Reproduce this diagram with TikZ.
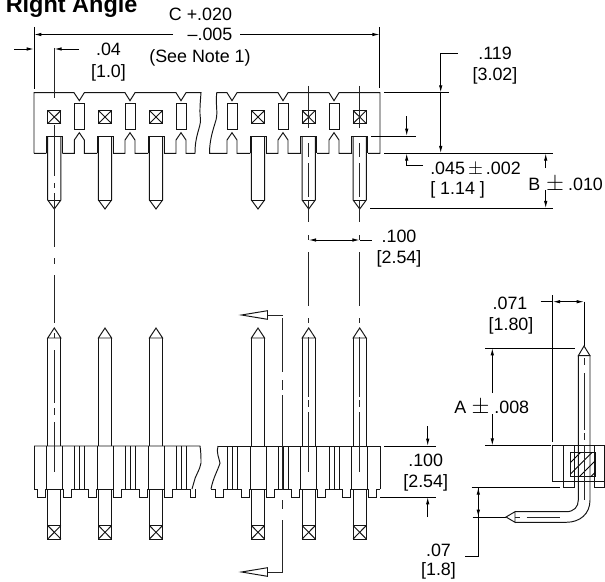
\documentclass[tikz,border=0pt]{standalone}
\usepackage{fontspec}
\usepackage{graphicx}
\setmainfont{Liberation Sans}
\usetikzlibrary{arrows.meta}
\tikzset{
  part/.style={line width=0.72pt,line join=miter,black!92},
  cen/.style={line width=0.72pt,black!85},
  dim/.style={line width=0.72pt,black},
  arr/.style={dim,-{Latex[length=5.5pt,width=2.6pt]}},
  lab/.style={anchor=base,inner sep=0pt,font=\fontsize{13.4}{16}\selectfont},
  labw/.style={lab,anchor=base west},
  hatchline/.style={line width=0.6pt,black}
}
\newcommand{\cenv}[3]{\draw[cen] (#1,#2) -- (#1,#3);}
\newcommand{\bigpm}{\scalebox{1.2}{$\pm$}}
\begin{document}
\begin{tikzpicture}[x=0.75pt,y=-0.75pt]
\useasboundingbox (0,0) rectangle (605,581);
\clip (0,0) rectangle (605,581);
\fill[white] (0,0) rectangle (605,581);

% ---------- title
\node[anchor=base west,inner sep=0pt,font=\fontsize{17.6}{20}\selectfont\bfseries] (title) at (5.5,13) {Right Angle};

% ---------- top view: body outline
\draw[part] (34,153.3) -- (34,92.7) -- (74,92.7) -- (79.3,100.7) -- (84.3,92.7) -- (125,92.7) -- (130,100.7) -- (135,92.7) -- (176,92.7) -- (181,100.7) -- (186,92.7) -- (201,92.7)
  .. controls (200,105) and (199.5,112) .. (200.5,120) .. controls (200.5,128) and (195,135) .. (195,153.3)
  -- (186,153.3) -- (186,140) -- (181,132.7) -- (176,140) -- (176,153.3) -- (164,153.3)
  (148,153.3) -- (135,153.3) -- (135,140) -- (130,132.7) -- (125,140) -- (125,153.3) -- (113,153.3)
  (97,153.3) -- (84.3,153.3) -- (84.3,140) -- (79.3,132.7) -- (74.3,140) -- (74.3,153.3) -- (62.3,153.3)
  (46.3,153.3) -- (34,153.3);
\draw[part] (216.7,92.7) -- (227,92.7) -- (232,100.7) -- (237,92.7) -- (278,92.7) -- (283,100.7) -- (288,92.7) -- (329,92.7) -- (334,100.7) -- (339,92.7) -- (380,92.7) -- (380,153.3) -- (368,153.3)
  (352,153.3) -- (339,153.3) -- (339,140) -- (334,132.7) -- (329,140) -- (329,153.3) -- (317,153.3)
  (301,153.3) -- (288,153.3) -- (288,140) -- (283,132.7) -- (278,140) -- (278,153.3) -- (266,153.3)
  (250,153.3) -- (237,153.3) -- (237,140) -- (232,132.7) -- (227,140) -- (227,153.3) -- (209.5,153.3)
  .. controls (209.5,140) and (213,130) .. (216,120) .. controls (218,112) and (215.5,105) .. (216.7,92.7);
% slots
\foreach \c in {79.3,130,181,232,283,334}
  \draw[part] (\c-5,103.3) rectangle (\c+5,129.3);
% pins, top view
\foreach \c in {54.3,105,156,258,308.7,359.7}{
  \draw[part,fill=white] (\c-6.6,110.5) rectangle (\c+6.6,123.5);
  \draw[part] (\c-6.6,110.5) -- (\c+6.6,123.5) (\c-6.6,123.5) -- (\c+6.6,110.5);
  \draw[part] (\c-8,153.3) -- (\c-8,136) -- (\c+8,136) -- (\c+8,153.3);
  \draw[part] (\c-6.6,136) -- (\c-6.6,200) -- (\c,209) -- (\c+6.6,200) -- (\c+6.6,136);
  \draw[part] (\c-6.6,200) -- (\c+6.6,200);
}

% ---------- front view
\draw[part] (34,446) -- (200,446) .. controls (201,452) and (201,458) .. (201,463) .. controls (200,470) and (195,476) .. (194,482) -- (192,489);
\draw[part] (218,446) .. controls (216,452) and (219,458) .. (220,463) .. controls (218,470) and (213,478) .. (211,489);
\draw[part] (218,446) -- (380,446) -- (380,489);
\draw[part] (34,446) -- (34,489);
% base with feet
\draw[part] (34,489) -- (37.5,489) -- (37.5,497) -- (45.3,497) -- (45.3,489) -- (46.3,489);
\draw[part] (173,489) -- (190.5,489) -- (190.5,497) -- (195,497) -- (195,489);
\draw[part] (211,489) -- (215.7,489) -- (215.7,497) -- (223.7,497) -- (223.7,489) -- (241,489);
\draw[part] (376,489) -- (380,489);
\foreach \c in {54.3,105,156,258,308.7,359.7}{
  \draw[part] (\c-8,446) -- (\c-8,489) (\c+8,446) -- (\c+8,489);
  \draw[part] (\c-8,489) -- (\c+8,489);
  \draw[part] (\c-6.6,338) -- (\c,328) -- (\c+6.6,338) -- cycle;
  \draw[part] (\c-6.6,338) -- (\c-6.6,446) (\c+6.6,338) -- (\c+6.6,446);
  \draw[part] (\c-6.6,489) -- (\c-6.6,539) -- (\c+6.6,539) -- (\c+6.6,489);
  \draw[part] (\c-6.6,525.5) rectangle (\c+6.6,539);
  \draw[part] (\c-6.6,525.5) -- (\c+6.6,539) (\c-6.6,539) -- (\c+6.6,525.5);
  \draw[part] (\c+8,489) -- (\c+8.8,489) -- (\c+8.8,497) -- (\c+16.8,497) -- (\c+16.8,489);
}
\foreach \c in {105,156,258,308.7,359.7}
  \draw[part] (\c-16.8,489) -- (\c-16.8,497) -- (\c-8.8,497) -- (\c-8.8,489) -- (\c-8,489);
\foreach \a/\b in {71.1/88.2,121.8/139.2,275/291.9,325.5/342.9}
  \draw[part] (\a,489) -- (\b,489);
\foreach \c in {79.3,130,181,232.3,283,334}
  \draw[part] (\c-5,446) -- (\c-5,489) (\c,446) -- (\c,489) (\c+5,446) -- (\c+5,489);

% ---------- centre lines
\cenv{54.3}{48}{98}\cenv{54.3}{125}{176}\cenv{54.3}{183}{188}\cenv{54.3}{193}{247}\cenv{54.3}{258}{264}\cenv{54.3}{275}{323}\cenv{54.3}{333}{338}\cenv{54.3}{350}{403}\cenv{54.3}{408}{415}\cenv{54.3}{422}{472}
\foreach \c in {308.7,359.7}{
  \cenv{\c}{86}{128}\cenv{\c}{143}{157}\cenv{\c}{163}{197}\cenv{\c}{200}{222}\cenv{\c}{235}{240}\cenv{\c}{252}{306}\cenv{\c}{318}{323}\cenv{\c}{337}{397}\cenv{\c}{400}{407}\cenv{\c}{412}{472}
}
% section line
\draw[cen] (282.8,318) -- (282.8,372) (282.8,380) -- (282.8,390) (282.8,395) -- (282.8,490) (282.8,500) -- (282.8,509) (282.8,520) -- (282.8,572) -- (267.5,572);
\draw[cen] (282.8,315) -- (267.5,315);
\draw[part,fill=white] (241.5,315) -- (267.5,310.7) -- (267.5,319.3) -- cycle;
\draw[part,fill=white] (241.5,572) -- (267.5,567.7) -- (267.5,576.3) -- cycle;

% ---------- dimension C
\coordinate (cl) at (34,34.5); \coordinate (cr) at (379.7,34.5);
\draw[dim] (34,27) -- (34,89) (379.7,27) -- (379.7,88);
\draw[arr] (173,34.5) -- (cl);
\draw[arr] (240,34.5) -- (cr);
\node[lab] (c1) at (200.5,21) {C +.020};
\node[lab] (c2) at (210,41) {--.005};
\node[lab] (c3) at (200,62.5) {(See Note 1)};

% .04
\draw[arr] (14,49) -- (34,49);
\draw[arr] (79,49) -- (54.3,49);
\node[lab] (d1) at (108.5,55.5) {.04};
\node[lab] (d2) at (108.5,77.5) {[1.0]};

% .119
\draw[dim] (457.7,53.3) -- (440.7,53.3);
\draw[arr] (440.7,53.3) -- (440.7,92.7);
\draw[arr] (440.7,92.7) -- (440.7,153.3);
\draw[dim] (384,92.7) -- (449,92.7) (384,153.3) -- (553,153.3);
\node[lab] (e1) at (495,59.5) {.119};
\node[lab] (e2) at (495,80.5) {[3.02]};

% .045
\draw[arr] (406.7,116) -- (406.7,136);
\draw[dim] (371,136) -- (416,136);
\draw[arr] (423,165.7) -- (406.7,165.7) -- (406.7,153.3);
\node[labw] (f1) at (430,174.5) {.045\,$\pm$\,.002};
\node[labw] (f2) at (430,194) {[ 1.14 ]};

% B
\draw[arr] (545.7,168) -- (545.7,153.3);
\draw[arr] (545.7,190) -- (545.7,208.3);
\draw[dim] (370,208.3) -- (553,208.3);
\node[labw] (g1) at (528,190.5) {B\hspace{4.5pt}\bigpm\hspace{3pt}.010};

% .100 pitch
\draw[arr] (340,240) -- (308.7,240);
\draw[arr] (330,240) -- (359.7,240);
\draw[dim] (359.7,240) -- (372,240);
\node[lab] (h1) at (399,242.5) {.100};
\node[lab] (h2) at (399,263.5) {[2.54]};

% .100 body
\draw[dim] (384,446) -- (435.5,446) (380,497) -- (435.5,497);
\draw[arr] (427.7,426) -- (427.7,446);
\draw[arr] (427.7,517) -- (427.7,497);
\node[lab] (i1) at (425.7,466.5) {.100};
\node[lab] (i2) at (425.7,487) {[2.54]};

% .07
\draw[dim] (471.7,487.3) -- (560,487.3) (472.7,517) -- (506,517);
\draw[arr] (478.3,517) -- (478.3,487.3);
\draw[arr] (478.3,487.3) -- (478.3,517);
\draw[dim] (478.3,517) -- (478.3,556.7) -- (465,556.7);
\node[lab] (j1) at (438.5,556.5) {.07};
\node[lab] (j2) at (438.5,575.5) {[1.8]};

% ---------- side view
\draw[part] (552.7,445.7) rectangle (604.6,481.7);
\draw[part] (563.3,445.7) -- (563.3,487.5) -- (574.3,487.5) -- (574.3,445.7);
\draw[part] (594,445.7) -- (594,487.5) -- (604.6,487.5) -- (604.6,481.7);
\draw[part] (570.7,452.3) rectangle (595,476.7);
\begin{scope}
  \clip (570.7,452.3) rectangle (595,476.7);
  \foreach \k in {0,1,2,3,4}
    \draw[hatchline] (553+\k*11.5,480) -- (583+\k*11.5,450);
\end{scope}
\draw[part] (578.3,355.7) -- (584,346) -- (590,355.7) -- cycle;
\draw[part] (578.3,355.7) -- (578.3,500) .. controls (578.3,507) and (574,511.7) .. (566,511.7) -- (521,511.7) -- (515,511.7);
\draw[part] (590,355.7) -- (590,500) .. controls (590,514) and (580,522.3) .. (566,522.3) -- (515,522.3);
\draw[part] (515,511.7) -- (506,517) -- (515,522.3) -- cycle;
\cenv{584}{358}{365}\cenv{584}{373}{430}\cenv{584}{433}{440}\cenv{584}{445}{500}
\draw[cen] (515,517) -- (520,517) (526.7,517) -- (560,517);

% .071
\draw[dim] (552.7,295) -- (552.7,441.7);
\draw[arr] (575,301.7) -- (552.7,301.7);
\draw[dim] (540.7,301.7) -- (552.7,301.7);
\draw[arr] (560,301.7) -- (584,301.7);
\draw[dim] (584,301.7) -- (584,346);
\node[lab] (k1) at (510,309) {.071};
\node[lab] (k2) at (511,330.5) {[1.80]};

% A
\draw[dim] (485,348) -- (575,348) (485,445.7) -- (550.7,445.7);
\draw[arr] (492.3,393) -- (492.3,348);
\draw[arr] (492.3,414) -- (492.3,445.7);
\node[labw] (m1) at (454,413.5) {A\hspace{4pt}\bigpm\hspace{3.7pt}.008};
\end{tikzpicture}
\end{document}
